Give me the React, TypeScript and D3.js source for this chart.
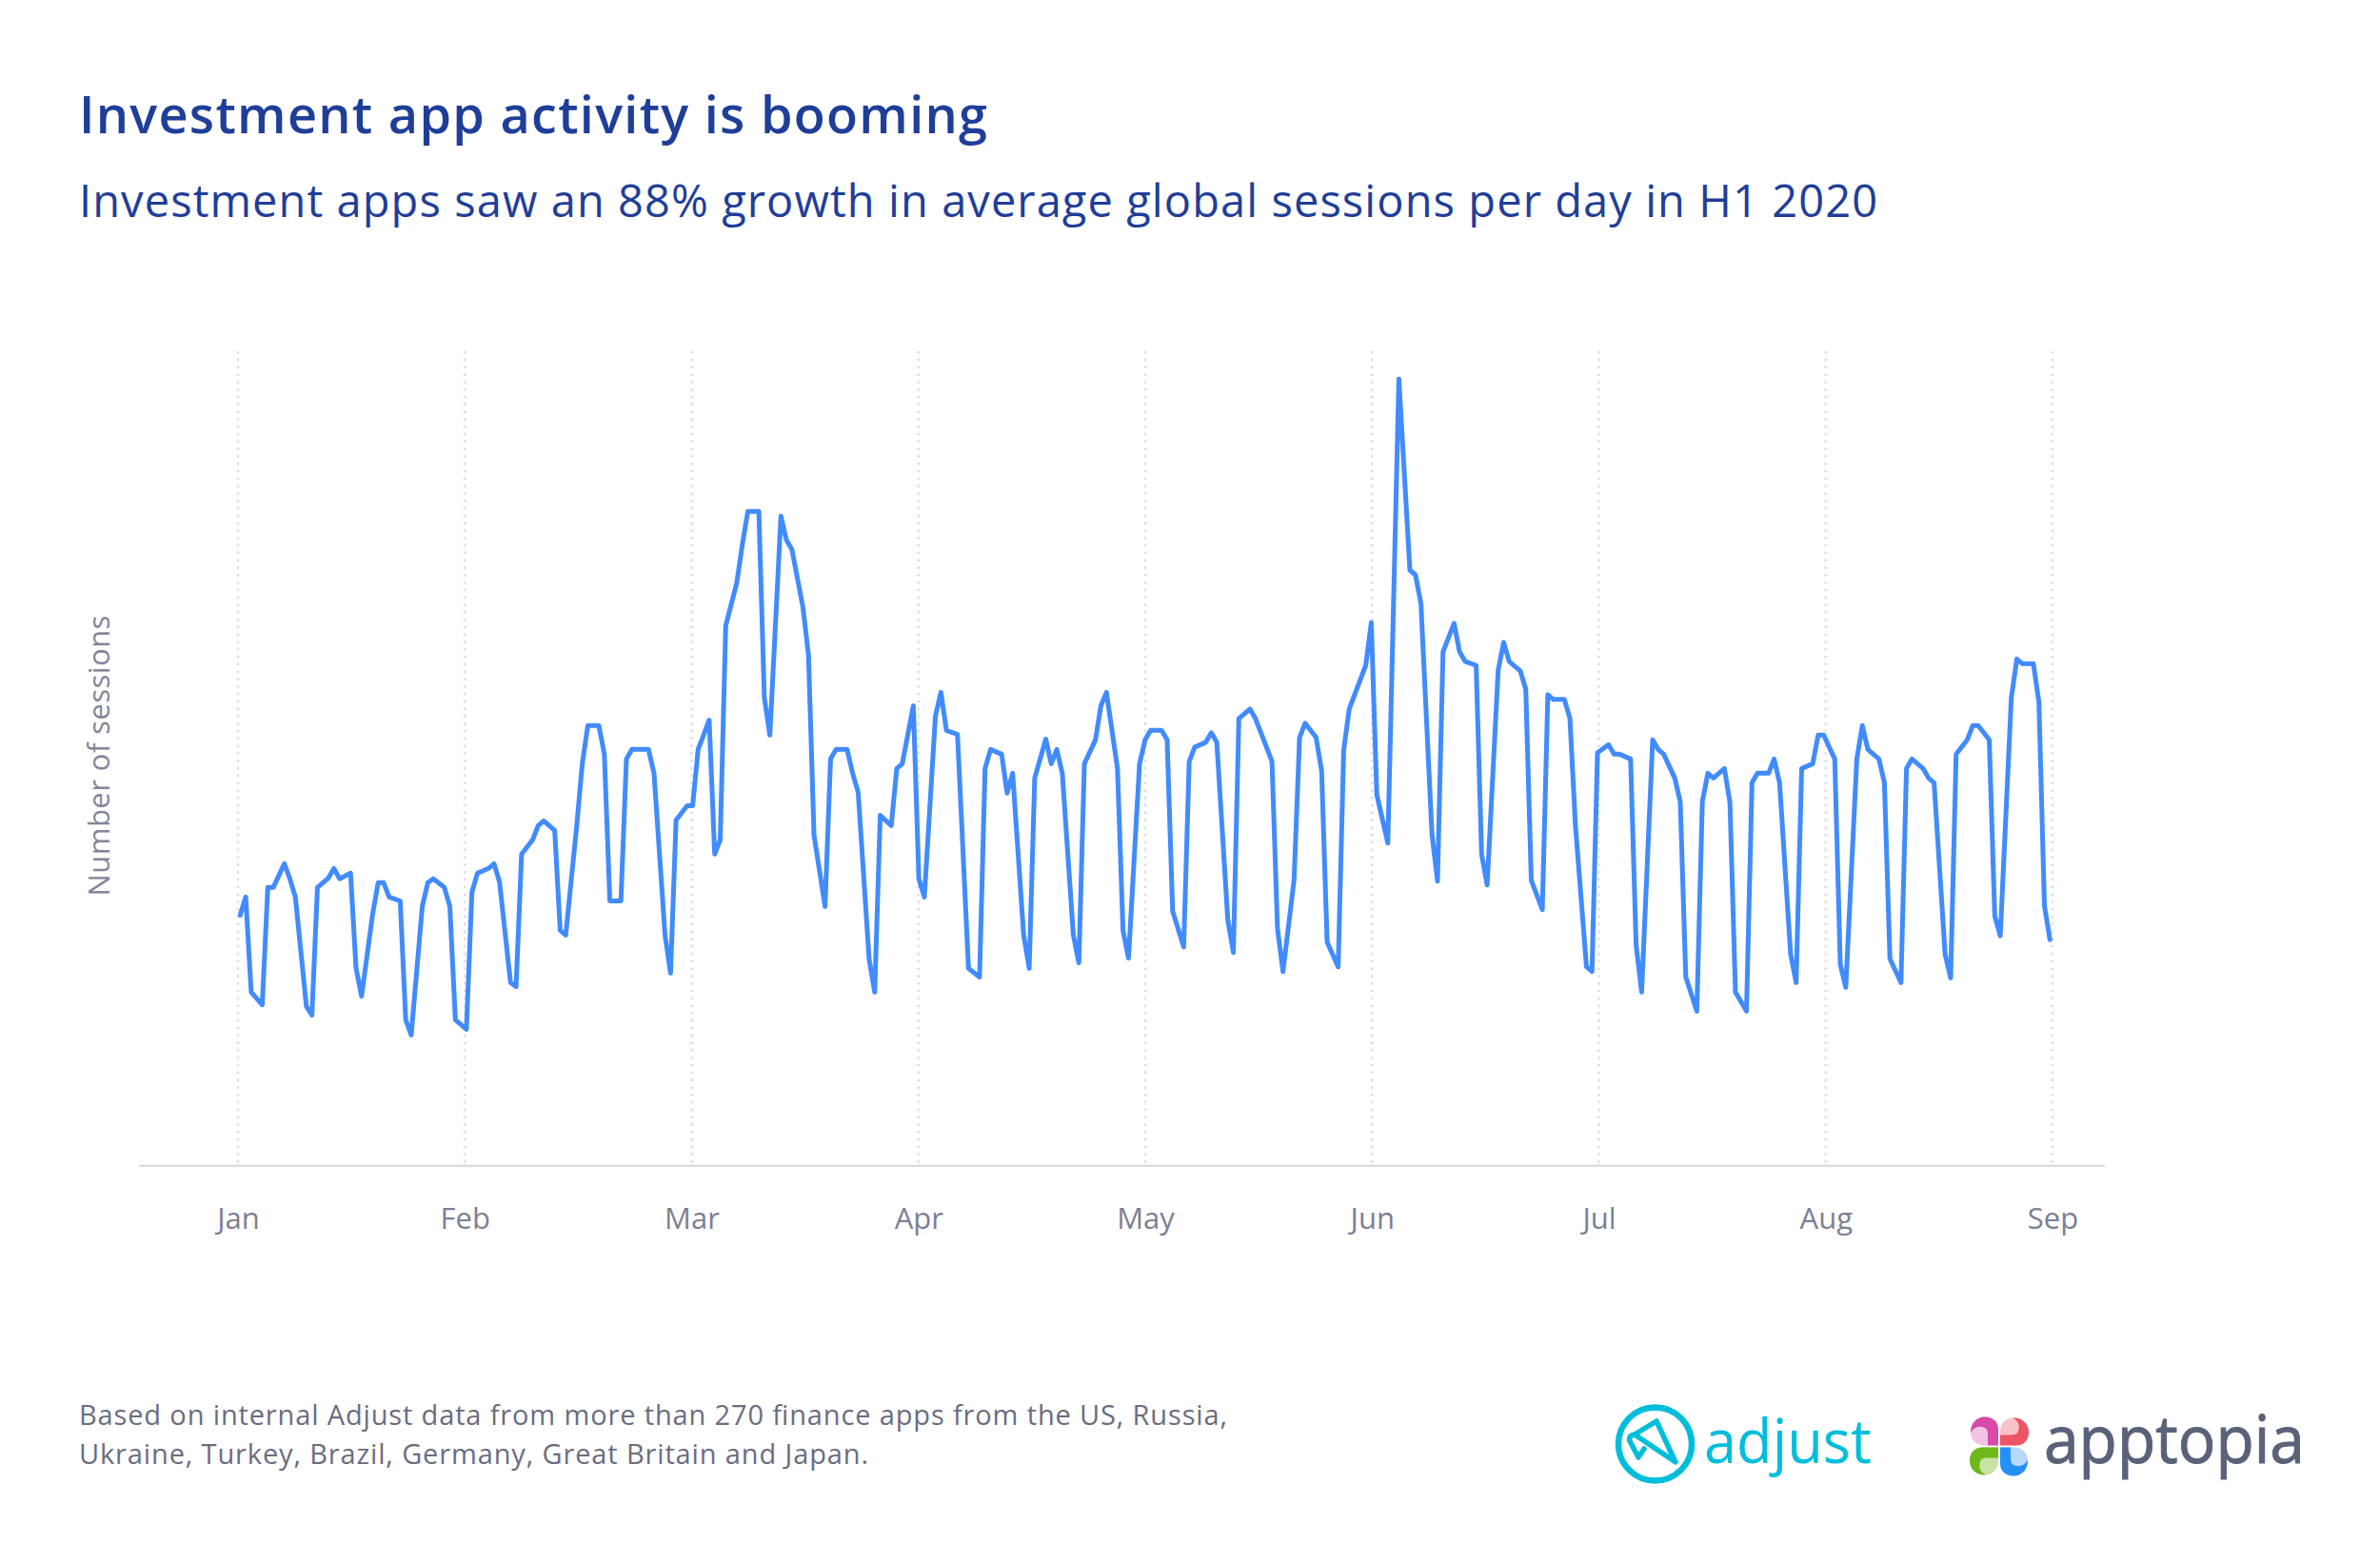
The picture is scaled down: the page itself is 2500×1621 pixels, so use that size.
import React, { useEffect, useRef } from "react";
import * as d3 from "d3";

const WIDTH = 2500;
const HEIGHT = 1621;

const months = ["Jan", "Feb", "Mar", "Apr", "May", "Jun", "Jul", "Aug", "Sep"];

// sample number along the x axis (the source sampled about 41 times per axis month)
const sampleIdx = [
  0, 1, 2, 4, 5, 6, 8, 9, 10, 12, 13, 14, 16, 17, 18, 20, 21, 22, 24, 25, 26, 27, 29, 30, 31, 33, 34, 35, 37, 38, 39, 41,
  42, 43, 45, 46, 47, 49, 50, 51, 53, 54, 55, 57, 58, 59, 61, 62, 63, 65, 66, 67, 69, 70, 71, 74, 75, 77, 78, 79, 81, 82, 83, 85,
  86, 87, 88, 90, 91, 92, 94, 95, 96, 98, 99, 100, 102, 103, 104, 106, 107, 108, 110, 111, 112, 114, 115, 116, 118, 119, 120, 122, 123, 124, 126, 127,
  128, 130, 132, 134, 135, 136, 138, 139, 140, 142, 143, 144, 146, 147, 148, 149, 151, 152, 153, 155, 156, 157, 159, 160, 161, 163, 164, 165, 167, 168, 169,
  171, 172, 173, 175, 176, 177, 179, 180, 181, 183, 184, 187, 188, 189, 191, 192, 193, 195, 196, 197, 199, 200, 201, 204, 205, 206, 208, 210, 212, 213, 214,
  216, 217, 218, 220, 221, 222, 224, 225, 226, 228, 229, 230, 232, 233, 234, 236, 237, 238, 240, 241, 242, 244, 245, 246, 248, 249, 250, 252, 253, 254,
  256, 257, 258, 260, 261, 262, 264, 265, 266, 267, 269, 270, 271, 273, 274, 275, 277, 278, 279, 281, 282, 283, 285, 286, 287, 289, 290, 291,
  293, 294, 295, 297, 298, 299, 301, 302, 303, 305, 306, 307, 309, 310, 311, 313, 314, 315, 317, 318, 319, 321, 322, 323, 325, 326, 327, 328,
];

// no y ticks in the source, so this is a relative session index
const sessions = [
  321, 344, 224, 208, 356, 356, 386, 367, 344, 206, 195, 356, 368, 380, 367, 374, 254, 219, 322, 362, 362, 344, 339, 189, 170, 332, 362, 367, 356, 332, 189, 177,
  350, 374, 380, 386, 363, 236, 231, 398, 416, 434, 440, 428, 302, 296, 434, 512, 560, 560, 524, 339, 339, 518, 530, 530, 500, 296, 248, 441, 459, 459, 530, 567,
  398, 416, 686, 740, 788, 830, 830, 595, 548, 824, 794, 782, 709, 649, 422, 332, 518, 530, 530, 500, 476, 265, 224, 447, 434, 506, 512, 585, 367, 344, 572, 602,
  554, 549, 254, 243, 506, 530, 524, 475, 500, 296, 254, 494, 543, 512, 530, 500, 296, 261, 512, 542, 585, 602, 506, 302, 267, 512, 542, 554, 554, 542, 326,
  281, 515, 533, 539, 551, 539, 315, 274, 569, 581, 569, 515, 304, 250, 365, 545, 563, 545, 503, 287, 256, 529, 581, 636, 690, 473, 412, 997, 756, 750, 714,
  423, 364, 653, 689, 653, 641, 636, 398, 359, 630, 665, 641, 629, 606, 365, 328, 599, 593, 593, 569, 434, 256, 250, 526, 536, 524, 524, 518, 283, 224,
  542, 530, 524, 494, 464, 243, 200, 464, 500, 494, 506, 463, 224, 200, 488, 500, 500, 518, 488, 272, 236, 506, 512, 548, 548, 518, 259, 230,
  518, 560, 530, 518, 488, 266, 236, 506, 518, 506, 494, 488, 272, 242, 524, 542, 560, 560, 542, 320, 295, 595, 644, 638, 638, 590, 333, 290,
];

const title = "Investment app activity is booming";
const subtitle = "Investment apps saw an 88% growth in average global sessions per day in H1 2020";
const yLabel = "Number of sessions";
const footnote = [
  "Based on internal Adjust data from more than 270 finance apps from the US, Russia,",
  "Ukraine, Turkey, Brazil, Germany, Great Britain and Japan.",
];

const petals = [
  { rotate: 0, dark: "#d84ba8", light: "#f2c3e2" },
  { rotate: 90, dark: "#ec5566", light: "#f8c3c8" },
  { rotate: 180, dark: "#2590f5", light: "#b7d9fb" },
  { rotate: 270, dark: "#6fb81c", light: "#c8e3a4" },
];

const FONT = "'Open Sans', 'Noto Sans', sans-serif";
const NAVY = "#1f3e99";
const GRAY = "#7c7f94";

function AdjustLogo() {
  return (
    <g>
      <circle cx={1738.5} cy={1517} r={38.5} fill="none" stroke="#00bedb" strokeWidth={6.5} />
      <path
        d="M1727 1522 L1721 1531 L1711.5 1513 Q1711 1508 1717 1507 L1740 1493 L1760 1536 L1717 1507"
        fill="none"
        stroke="#00bedb"
        strokeWidth={5.5}
        strokeLinejoin="round"
        strokeLinecap="round"
      />
      <text x={1790} y={1537} fontFamily={FONT} fontSize={64} fill="#00bedb" textLength={176} lengthAdjust="spacingAndGlyphs">
        adjust
      </text>
    </g>
  );
}

function ApptopiaLogo() {
  return (
    <g>
      {petals.map((p) => (
        <g key={p.dark} transform={`translate(2100,1519.5) rotate(${p.rotate})`}>
          <path d="M-1 -1 V-18 C-1 -26 -7 -31 -15 -31 C-24 -31 -30 -24 -30 -15 C-30 -7 -24 -1 -16 -1 Z" fill={p.light} />
          <path
            d="M-1 -1 V-18 C-1 -26 -7 -31 -15 -31 C-24 -31 -30 -24 -30 -15 L-30 -14 C-27 -20 -22 -22 -16 -20 C-13 -19 -12 -16 -12 -13 V-1 Z"
            fill={p.dark}
          />
        </g>
      ))}
      <text x={2147} y={1537} fontFamily={FONT} fontSize={70} fill="#596279" stroke="#596279" strokeWidth={1} textLength={274} lengthAdjust="spacingAndGlyphs">
        apptopia
      </text>
    </g>
  );
}

export default function App() {
  const axisRef = useRef<SVGGElement>(null);

  const xMonth = d3.scalePoint<string>().domain(months).range([250, 2156]);
  const xSample = d3.scaleLinear().domain([0, 328]).range([252.3, 2153.3]);
  const y = d3.scaleLinear().domain([5, 1000]).range([1224.8, 395.7]);

  const line = d3
    .line<number>()
    .x((_, i) => xSample(sampleIdx[i]))
    .y((d) => y(d));

  useEffect(() => {
    const g = d3.select(axisRef.current);
    g.call(d3.axisBottom(xMonth).tickSize(0).tickPadding(44));
    g.select(".domain").remove();
    g.selectAll("text")
      .attr("font-family", FONT)
      .attr("font-size", 31)
      .attr("fill", GRAY);
  }, []);

  return (
    <svg width={WIDTH} height={HEIGHT} viewBox={`0 0 ${WIDTH} ${HEIGHT}`} style={{ position: "absolute", left: 0, top: 0, background: "#fff" }}>
      <text x={83} y={140} fontFamily={FONT} fontSize={54} fontWeight={600} fill={NAVY} textLength={954} lengthAdjust="spacing">
        {title}
      </text>
      <text x={83} y={228} fontFamily={FONT} fontSize={47} fill={NAVY} textLength={1889} lengthAdjust="spacing">
        {subtitle}
      </text>

      {months.map((m) => (
        <line key={m} x1={xMonth(m)} x2={xMonth(m)} y1={369} y2={1222} stroke="#dcdde3" strokeWidth={2.5} strokeDasharray="2.5 5.3" />
      ))}
      <line x1={146} x2={2211} y1={y(5)} y2={y(5)} stroke="#dcdde3" strokeWidth={2.5} />
      <g ref={axisRef} transform={`translate(0,${y(5)})`} />

      <text
        transform="translate(115,794) rotate(-90)"
        textAnchor="middle"
        fontFamily={FONT}
        fontSize={31}
        fill="#83859a"
        textLength={295}
        lengthAdjust="spacing"
      >
        {yLabel}
      </text>

      <path d={line(sessions) ?? ""} fill="none" stroke="#418bff" strokeWidth={5} strokeLinejoin="round" strokeLinecap="round" />

      <text x={83} y={1497} fontFamily={FONT} fontSize={29} fill="#6a6d80" textLength={1206} lengthAdjust="spacing">
        {footnote[0]}
      </text>
      <text x={83} y={1538} fontFamily={FONT} fontSize={29} fill="#6a6d80" textLength={829} lengthAdjust="spacing">
        {footnote[1]}
      </text>

      <AdjustLogo />
      <ApptopiaLogo />
    </svg>
  );
}
